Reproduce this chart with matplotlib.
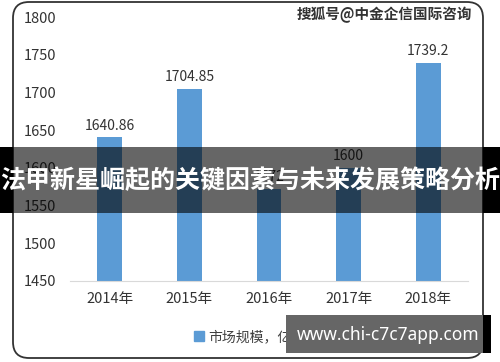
import matplotlib

matplotlib.use("Agg")
import matplotlib.pyplot as plt
from matplotlib.patches import FancyBboxPatch, Rectangle

plt.rcParams["font.family"] = ["Noto Sans CJK SC", "DejaVu Sans"]

# data
years = ["2014年", "2015年", "2016年", "2017年", "2018年"]
market_size = [1640.86, 1704.85, 1572.0, 1600.0, 1739.2]
value_labels = ["1640.86", "1704.85", "1572", "1600", "1739.2"]
series_name = "市场规模，亿元"
y_ticks = [1450, 1500, 1550, 1600, 1650, 1700, 1750, 1800]

BLUE = "#5b9bd5"
TXT = "#404040"

fig = plt.figure(figsize=(5, 3.62), dpi=100)
fig.patch.set_facecolor("white")

# rounded frame around the chart
frame = FancyBboxPatch((0.13, 0.04), 4.70, 3.56,
                       boxstyle="round,pad=0,rounding_size=0.16",
                       transform=fig.dpi_scale_trans,
                       facecolor="white", edgecolor="#333333", linewidth=1.3,
                       zorder=-1)
fig.add_artist(frame)

ax = fig.add_axes([0.14, 0.2238, 0.796, 0.729])
ax.set_facecolor("none")
x = range(len(years))
ax.bar(x, market_size, width=0.31, color=BLUE, zorder=2)
ax.set_ylim(1450, 1800)
ax.set_xlim(-0.5, len(years) - 0.5)
ax.set_yticks(y_ticks)
ax.set_xticks(list(x))
ax.set_xticklabels(years)
ax.tick_params(axis="both", length=0, labelsize=10.5, colors="#333333")
ax.tick_params(axis="y", pad=10)
ax.tick_params(axis="x", pad=8)
for s in ["top", "right", "left"]:
    ax.spines[s].set_visible(False)
ax.spines["bottom"].set_color("#d9d9d9")

for xi, v, lab in zip(x, market_size, value_labels):
    ax.text(xi, v + 6, lab, ha="center", va="bottom", fontsize=10, color="#333333")

fig.legend([Rectangle((0, 0), 1, 1, color=BLUE)], [series_name],
           loc="center", bbox_to_anchor=(0.5, 1 - 337 / 362),
           frameon=False, fontsize=10, handlelength=0.7, handleheight=0.7,
           handletextpad=0.3, labelcolor=TXT)

# source watermark top right
fig.text(0.945, 1 - 15 / 362, "搜狐号@中金企信国际咨询", ha="right", va="center",
         fontsize=10.5, color="#333333", fontweight="bold")

# dark banner across the middle
fig.add_artist(Rectangle((0, 1 - 213 / 362), 1, 66 / 362, transform=fig.transFigure,
                         facecolor="black", alpha=0.6, zorder=10))
for x0, w in [(0, 13 / 500), (483 / 500, 17 / 500)]:
    fig.add_artist(Rectangle((x0, 1 - 213 / 362), w, 66 / 362, transform=fig.transFigure,
                             facecolor="black", zorder=10))
fig.text(0.5, 1 - 181 / 362, "法甲新星崛起的关键因素与未来发展策略分析",
         ha="center", va="center", fontsize=18, fontweight="bold",
         color="white", zorder=11)

# site watermark bottom right
fig.add_artist(Rectangle((483 / 500, 1 - 353 / 362), 8 / 500, 38 / 362,
                         transform=fig.transFigure, facecolor="black", zorder=10))
fig.add_artist(Rectangle((286 / 500, 1 - 353 / 362), 197 / 500, 38 / 362,
                         transform=fig.transFigure, facecolor="#666666", zorder=10))
fig.text(388 / 500, 1 - 335 / 362, "www.chi-c7c7app.com", ha="center", va="center",
         fontsize=12.5, fontweight="bold", color="white", zorder=11,
         family=["Noto Sans", "DejaVu Sans"])

fig.savefig("out.png", dpi=100)
